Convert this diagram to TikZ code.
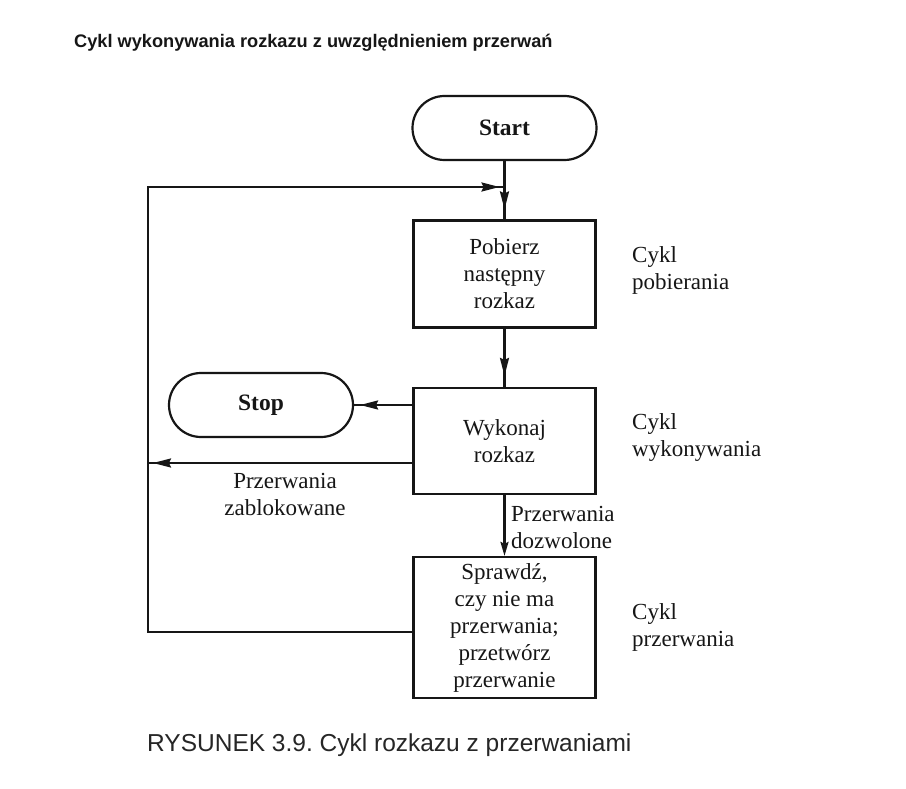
\documentclass[tikz,border=0pt]{standalone}
\usepackage{fontspec}
\setmainfont{Liberation Serif}
\newfontfamily\capfont{Liberation Sans}
\frenchspacing
\usetikzlibrary{arrows.meta,decorations.markings}
\definecolor{ink}{HTML}{161616}
\tikzset{
  x=1pt,y=-1pt,
  every node/.style={text=ink},
  lbl/.style={font=\fontsize{23}{27}\selectfont, align=center, inner sep=0pt},
  lbll/.style={font=\fontsize{23}{27}\selectfont, align=left, inner sep=0pt},
  boxnode/.style={draw=ink, line width=2.2pt, rectangle, minimum width=182pt, align=center,
    font=\fontsize{23}{27}\selectfont, inner sep=0pt},
  termnode/.style={draw=ink, line width=2.2pt, rounded corners=32pt, minimum width=184pt,
    minimum height=64pt, font=\fontsize{23.5}{27}\selectfont\bfseries, inner sep=0pt},
  conn/.style={draw=ink, line width=2.2pt},
  midarrow/.style={postaction={decorate}, decoration={markings,
    mark=at position #1 with {\arrow{Stealth[length=18pt,width=9pt,inset=2pt]}}}},
}
\begin{document}
\begin{tikzpicture}
\useasboundingbox (0,0) rectangle (906,789);
\fill[white] (0,0) rectangle (906,789);

\node[anchor=west, inner sep=0pt, font=\capfont\fontsize{18.2}{20}\selectfont\bfseries] (title) at (74,43)
  {Cykl wykonywania rozkazu z uwzględnieniem przerwań};

\node[termnode] (start) at (504.5,128) {Start};
\node[boxnode, minimum height=107pt] (pob) at (504.5,274) {Pobierz\\następny\\rozkaz};
\node[boxnode, minimum height=106pt] (wyk) at (504.5,441) {Wykonaj\\rozkaz};
\node[boxnode, minimum height=141pt] (spr) at (504.5,627.5) {Sprawdź,\\czy nie ma\\przerwania;\\przetwórz\\przerwanie};
\node[termnode] (stop) at (261,405) {Stop};

\node[lbll, anchor=west] (cp) at (632,270) {Cykl\\pobierania};
\node[lbll, anchor=west] (cw) at (632,438) {Cykl\\wykonywania};
\node[lbll, anchor=west] (cpr) at (632,627) {Cykl\\przerwania};

\node[lbl] (zab) at (285,494) {Przerwania\\zablokowane};
\node[lbll, anchor=west] (doz) at (511,527) {Przerwania\\dozwolone};

\coordinate (j) at (start.south |- 0,187);
\coordinate (tl) at (148,187);
\coordinate (bl) at (148,632);
\coordinate (zl) at (148,463);
\coordinate (sprw) at (spr.west |- 0,632);
\coordinate (wykz) at (wyk.west |- 0,463);
\coordinate (wyks) at (wyk.west |- stop.east);

% main flow
\draw[conn, midarrow=-10pt] (start.south) -- (pob.north);
\draw[conn, midarrow=-11pt] (pob.south) -- (wyk.north);
\draw[conn, -{Stealth[length=14pt,width=8pt,inset=2pt]}] (wyk.south) -- (spr.north);
\draw[conn, midarrow=-6pt] (wyks) -- (stop.east);
\draw[conn, midarrow=-5pt] (wykz) -- (zl);
\draw[conn, line join=miter, midarrow=-5pt] (sprw) -- (bl) -- (tl) -- (j);

\node[anchor=west, inner sep=0pt, font=\capfont\fontsize{24.5}{28}\selectfont, text=black!85] (cap) at (147,745)
  {RYSUNEK 3.9. Cykl rozkazu z przerwaniami};
\end{tikzpicture}
\end{document}
